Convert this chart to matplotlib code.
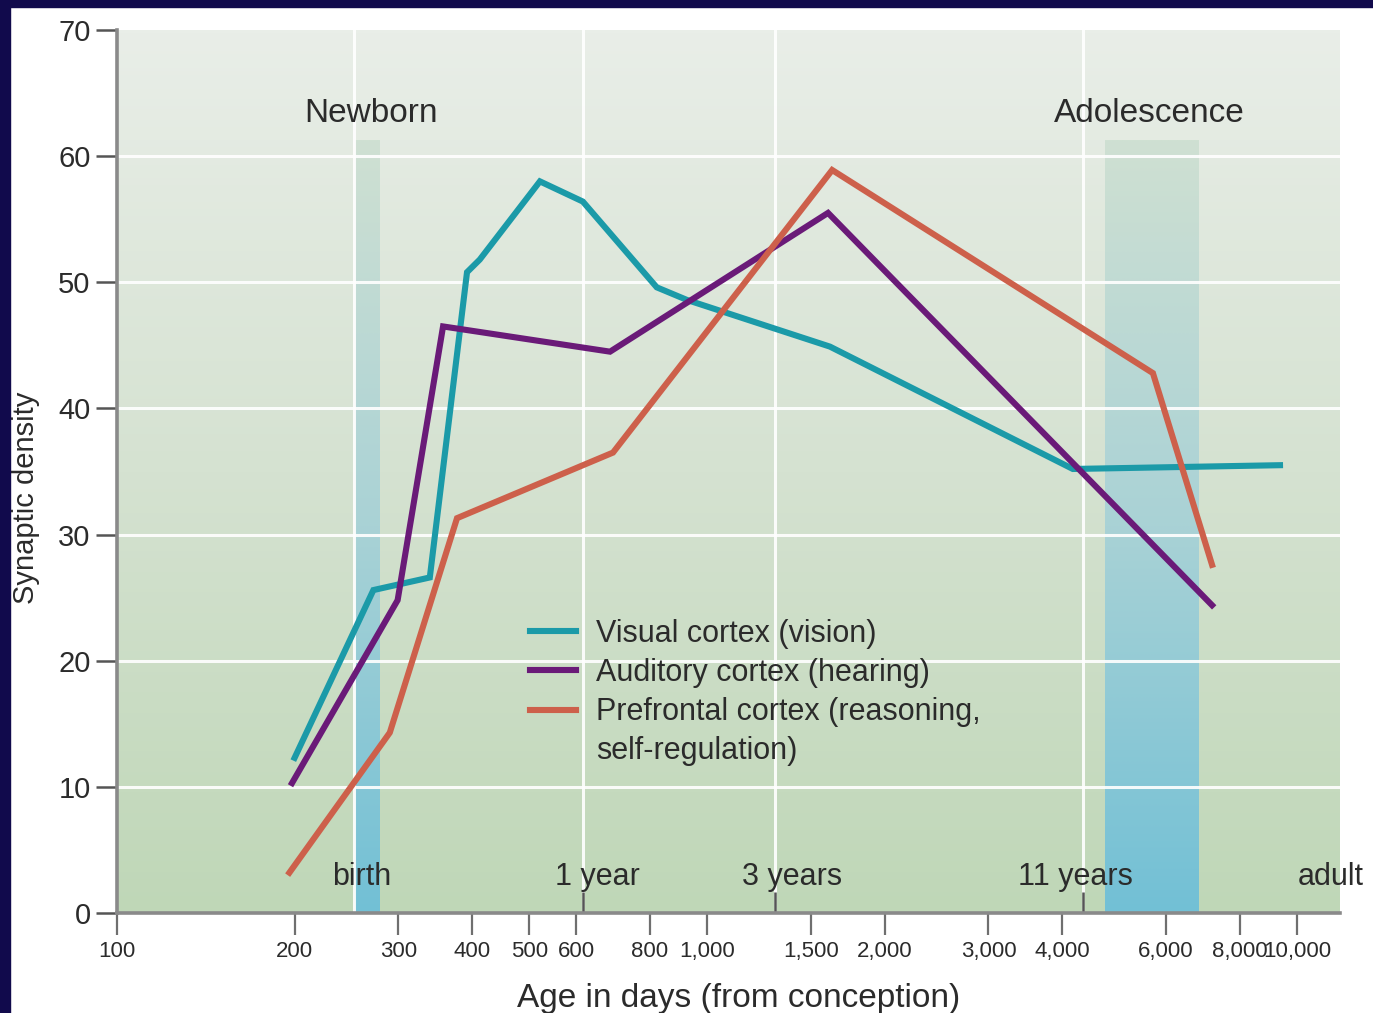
#!/usr/bin/env python3
"""Synaptic density in three cortex regions across age (log days)."""

import matplotlib
matplotlib.use("Agg")
import matplotlib.pyplot as plt
import matplotlib.patches as mpatches
from matplotlib.lines import Line2D
from matplotlib.colors import LinearSegmentedColormap
import numpy as np

# --- data (age in days from conception, synaptic density) ---
visual_days = [200, 272, 339, 392, 412, 521, 616, 822, 925, 1616, 4170, 9360]
visual_vals = [12.3, 25.6, 26.6, 50.8, 51.8, 58.0, 56.4, 49.6, 48.6, 44.9, 35.2, 35.5]

auditory_days = [198, 299, 357, 685, 1604, 7180]
auditory_vals = [10.3, 24.8, 46.5, 44.5, 55.5, 24.4]

prefrontal_days = [196, 290, 377, 693, 1630, 5700, 7180]
prefrontal_vals = [3.2, 14.3, 31.3, 36.5, 58.9, 42.8, 27.6]

xticks = [100, 200, 300, 400, 500, 600, 800, 1000, 1500, 2000,
          3000, 4000, 6000, 8000, 10000]
xtick_labels = ["100", "200", "300", "400", "500", "600", "800", "1,000",
                "1,500", "2,000", "3,000", "4,000", "6,000", "8,000", "10,000"]
yticks = [0, 10, 20, 30, 40, 50, 60, 70]

milestone_days = [616, 1304, 4337]          # 1 year, 3 years, 11 years
milestone_lines = [252] + milestone_days
stage_labels = ["birth", "1 year", "3 years", "11 years"]
stage_label_days = [260, 651, 1394, 4208]

newborn_span = (253, 279)
adolescence_span = (4730, 6850)
band_top = 61.3

TEXT = "#2b2b2b"
NAVY = "#110a4c"

plt.rcParams.update({
    "font.family": ["Liberation Sans", "DejaVu Sans"],
    "text.color": TEXT,
    "axes.labelcolor": TEXT,
    "xtick.color": "#6f6f6f",
    "ytick.color": "#555555",
    "xtick.labelcolor": TEXT,
    "ytick.labelcolor": TEXT,
})

fig = plt.figure(figsize=(13.73, 10.13), dpi=100)
fig.patch.set_facecolor("white")
ax = fig.add_axes([117 / 1373, 100 / 1013, 1223 / 1373, 883 / 1013])

# navy frame on top and left
fig.patches.append(mpatches.Rectangle((0, 1 - 7 / 1013), 1, 7 / 1013,
                                      transform=fig.transFigure, color=NAVY, zorder=10))
fig.patches.append(mpatches.Rectangle((0, 0), 10 / 1373, 1,
                                      transform=fig.transFigure, color=NAVY, zorder=10))

ax.set_xscale("log")

# background gradient
bg = LinearSegmentedColormap.from_list("bg", ["#bfd7b7", "#d5e2d1", "#e9eee8"])
ax.imshow(np.linspace(0, 1, 256).reshape(-1, 1), cmap=bg, origin="lower",
          extent=(0, 1, 0, 1), transform=ax.transAxes, aspect="auto", zorder=0)

# life-stage bands
band_cmap = LinearSegmentedColormap.from_list("band", ["#72c0d5", "#a9d2d6", "#cfe0d2"])
grad = band_cmap(np.linspace(0, 1, 256)).reshape(256, 1, 4)
for x0, x1 in (newborn_span, adolescence_span):
    ax.imshow(grad, origin="lower", extent=(x0, x1, 0, band_top),
              aspect="auto", zorder=1, interpolation="bilinear")

# white grid
for y in yticks[1:-1]:
    ax.axhline(y, color="white", lw=2.2, zorder=1.5, alpha=0.9)
for d in milestone_lines:
    ax.axvline(d, color="white", lw=2.2, zorder=1.5, alpha=0.9)

# curves
ax.plot(visual_days, visual_vals, color="#1b9aa8", lw=4.4, zorder=4,
        solid_joinstyle="miter", label="Visual cortex (vision)")
ax.plot(auditory_days, auditory_vals, color="#6a1a78", lw=4.4, zorder=4,
        solid_joinstyle="miter", label="Auditory cortex (hearing)")
ax.plot(prefrontal_days, prefrontal_vals, color="#cd604b", lw=4.4, zorder=4,
        solid_joinstyle="miter", label="Prefrontal cortex (reasoning,")

# stage text
for d, s in zip(stage_label_days, stage_labels):
    ax.text(d, 2.85, s, ha="center", va="center", fontsize=22, color=TEXT, zorder=5)
ax.text(10040, 2.85, "adult", ha="left", va="center", fontsize=22, color=TEXT,
        zorder=5, clip_on=False)
ax.text(270, 63.4, "Newborn", ha="center", va="center", fontsize=24, color=TEXT, zorder=5)
ax.text(5630, 63.4, "Adolescence", ha="center", va="center", fontsize=24, color=TEXT, zorder=5)

# axes
ax.set_xlim(100, 11830)
ax.set_ylim(0, 70)
ax.set_xticks(xticks)
ax.set_xticklabels(xtick_labels)
ax.set_xticks(milestone_days, minor=True)
ax.set_yticks(yticks)
ax.tick_params(axis="x", which="major", length=16, width=1.6, pad=4, labelsize=16)
ax.tick_params(axis="x", which="minor", direction="in", length=15, width=1.8,
               color="#555555", labelbottom=False)
ax.tick_params(axis="y", length=15, width=1.8, pad=4, labelsize=21)

for side in ("top", "right"):
    ax.spines[side].set_visible(False)
for side in ("left", "bottom"):
    ax.spines[side].set_color("#8a8a8a")
    ax.spines[side].set_linewidth(2.6)

ax.set_xlabel("Age in days (from conception)", fontsize=24)
ax.xaxis.set_label_coords(0.5086, -0.079)
ax.set_ylabel("Synaptic density", fontsize=21)
ax.yaxis.set_label_coords(-0.063, 0.47)

handles, labels = ax.get_legend_handles_labels()
handles.append(Line2D([], [], color="none"))
labels.append("self-regulation)")
ax.legend(handles, labels, loc="upper left", bbox_to_anchor=(0.338, 0.333),
          frameon=False, fontsize=22, handlelength=1.5, handletextpad=0.65,
          labelspacing=0.3, borderpad=0, borderaxespad=0)

fig.savefig("out.png", dpi=100, facecolor="white")
print("Saved out.png")
